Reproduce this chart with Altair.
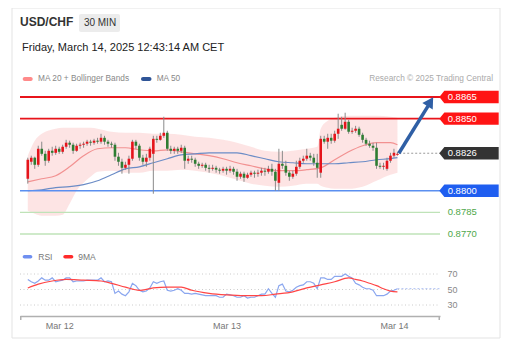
import altair as alt
import pandas as pd

# ---------------- data (30-min candles, first one Mar 11 19:30) ----------------
open_ = [0.88083, 0.88201, 0.88229, 0.88180, 0.88291, 0.88256, 0.88208, 0.88277, 0.88263, 0.88291,
         0.88270, 0.88305, 0.88333, 0.88319, 0.88277, 0.88312, 0.88319, 0.88326, 0.88340, 0.88333,
         0.88347, 0.88340, 0.88367, 0.88340, 0.88326, 0.88319, 0.88236, 0.88201, 0.88159, 0.88180,
         0.88222, 0.88340, 0.88312, 0.88229, 0.88201, 0.88229, 0.88256, 0.88360, 0.88353, 0.88381,
         0.88402, 0.88291, 0.88277, 0.88291, 0.88277, 0.88298, 0.88208, 0.88222, 0.88215, 0.88187,
         0.88173, 0.88180, 0.88159, 0.88152, 0.88159, 0.88146, 0.88139, 0.88152, 0.88139, 0.88152,
         0.88132, 0.88097, 0.88118, 0.88090, 0.88111, 0.88125, 0.88118, 0.88125, 0.88139, 0.88132,
         0.88152, 0.88132, 0.88055, 0.88187, 0.88173, 0.88125, 0.88097, 0.88118, 0.88166, 0.88208,
         0.88222, 0.88243, 0.88229, 0.88194, 0.88125, 0.88360, 0.88340, 0.88367, 0.88347, 0.88395,
         0.88457, 0.88430, 0.88478, 0.88409, 0.88416, 0.88430, 0.88388, 0.88353, 0.88326, 0.88312,
         0.88298, 0.88173, 0.88166, 0.88152, 0.88208, 0.88243, 0.88249]
high = [0.88229, 0.88243, 0.88236, 0.88312, 0.88340, 0.88277, 0.88291, 0.88305, 0.88312, 0.88305,
        0.88319, 0.88353, 0.88347, 0.88333, 0.88326, 0.88333, 0.88340, 0.88353, 0.88353, 0.88360,
        0.88367, 0.88395, 0.88381, 0.88353, 0.88340, 0.88333, 0.88263, 0.88222, 0.88201, 0.88243,
        0.88353, 0.88353, 0.88326, 0.88249, 0.88256, 0.88305, 0.88381, 0.88381, 0.88402, 0.88513,
        0.88416, 0.88312, 0.88305, 0.88305, 0.88319, 0.88312, 0.88243, 0.88243, 0.88229, 0.88201,
        0.88194, 0.88194, 0.88180, 0.88180, 0.88173, 0.88159, 0.88166, 0.88166, 0.88173, 0.88166,
        0.88152, 0.88132, 0.88132, 0.88125, 0.88139, 0.88139, 0.88146, 0.88159, 0.88159, 0.88173,
        0.88187, 0.88152, 0.88291, 0.88277, 0.88208, 0.88139, 0.88139, 0.88208, 0.88229, 0.88243,
        0.88291, 0.88263, 0.88256, 0.88256, 0.88381, 0.88381, 0.88395, 0.88395, 0.88416, 0.88534,
        0.88513, 0.88541, 0.88492, 0.88437, 0.88450, 0.88444, 0.88402, 0.88367, 0.88347, 0.88333,
        0.88333, 0.88194, 0.88194, 0.88229, 0.88263, 0.88291, 0.88270]
low = [0.88049, 0.88180, 0.88152, 0.88166, 0.88243, 0.88173, 0.88194, 0.88243, 0.88249, 0.88256,
       0.88256, 0.88291, 0.88298, 0.88256, 0.88270, 0.88291, 0.88298, 0.88312, 0.88312, 0.88319,
       0.88326, 0.88326, 0.88319, 0.88305, 0.88298, 0.88208, 0.88173, 0.88118, 0.88146, 0.88118,
       0.88208, 0.88291, 0.88208, 0.88180, 0.88166, 0.88208, 0.87979, 0.88333, 0.88347, 0.88367,
       0.88277, 0.88256, 0.88256, 0.88256, 0.88263, 0.88152, 0.88187, 0.88194, 0.88166, 0.88152,
       0.88159, 0.88139, 0.88125, 0.88139, 0.88125, 0.88118, 0.88125, 0.88111, 0.88125, 0.88111,
       0.88069, 0.88083, 0.88062, 0.88083, 0.88097, 0.88090, 0.88097, 0.88104, 0.88104, 0.88118,
       0.88104, 0.88000, 0.88000, 0.88152, 0.88104, 0.88069, 0.88083, 0.88104, 0.88152, 0.88194,
       0.88208, 0.88208, 0.88173, 0.88090, 0.88090, 0.88326, 0.88291, 0.88326, 0.88333, 0.88360,
       0.88416, 0.88423, 0.88395, 0.88395, 0.88402, 0.88374, 0.88333, 0.88312, 0.88298, 0.88277,
       0.88152, 0.88152, 0.88146, 0.88139, 0.88194, 0.88229, 0.88243]
close = [0.88215, 0.88229, 0.88180, 0.88291, 0.88256, 0.88208, 0.88277, 0.88263, 0.88291, 0.88270,
         0.88305, 0.88333, 0.88319, 0.88277, 0.88312, 0.88319, 0.88326, 0.88340, 0.88333, 0.88347,
         0.88340, 0.88367, 0.88340, 0.88326, 0.88319, 0.88236, 0.88201, 0.88159, 0.88180, 0.88222,
         0.88340, 0.88312, 0.88229, 0.88201, 0.88229, 0.88291, 0.88360, 0.88353, 0.88381, 0.88402,
         0.88291, 0.88277, 0.88291, 0.88277, 0.88298, 0.88208, 0.88222, 0.88215, 0.88187, 0.88173,
         0.88180, 0.88159, 0.88152, 0.88159, 0.88146, 0.88139, 0.88152, 0.88139, 0.88152, 0.88132,
         0.88097, 0.88118, 0.88090, 0.88111, 0.88125, 0.88118, 0.88125, 0.88139, 0.88132, 0.88152,
         0.88132, 0.88069, 0.88187, 0.88173, 0.88125, 0.88097, 0.88118, 0.88166, 0.88208, 0.88222,
         0.88243, 0.88229, 0.88194, 0.88159, 0.88360, 0.88340, 0.88367, 0.88347, 0.88395, 0.88430,
         0.88430, 0.88478, 0.88409, 0.88416, 0.88430, 0.88388, 0.88353, 0.88326, 0.88312, 0.88298,
         0.88173, 0.88166, 0.88173, 0.88208, 0.88243, 0.88263, 0.88256]
rsi = [63, 60, 58, 61, 65, 62, 62, 65, 60, 61,
       62, 65, 65, 60, 61, 61, 61, 62, 62, 62,
       62, 65, 60, 61, 60, 45, 48, 44, 42, 47,
       58, 55, 49, 47, 48, 52, 60, 58, 60, 61,
       49, 48, 49, 51, 49, 45, 45, 44, 45, 44,
       43, 42, 42, 42, 42, 40, 40, 44, 43, 42,
       40, 40, 42, 39, 40, 40, 42, 44, 44, 51,
       45, 40, 55, 57, 48, 47, 49, 53, 55, 56,
       60, 60, 58, 51, 65, 65, 63, 63, 67, 67,
       67, 70, 67, 65, 58, 56, 53, 51, 51, 49,
       42, 42, 42, 44, 48, 49, 51]

# moving averages (read at candle indices)
ma_idx = [0, 4, 8, 12, 16, 20, 24, 28, 32, 36, 40, 44, 48, 52, 56, 60, 64, 68, 72, 76, 80, 84, 88, 92, 96, 100, 104, 106]
ma20 = [0.88062, 0.88083, 0.88104, 0.88166, 0.88243, 0.88291, 0.88298, 0.88298, 0.88284, 0.88277,
        0.88284, 0.88270, 0.88256, 0.88243, 0.88222, 0.88194, 0.88173, 0.88152, 0.88139, 0.88139,
        0.88146, 0.88159, 0.88215, 0.88270, 0.88312, 0.88333, 0.88333, 0.88319]
ma50 = [0.88000, 0.88007, 0.88021, 0.88028, 0.88042, 0.88069, 0.88111, 0.88152, 0.88166, 0.88194,
        0.88222, 0.88249, 0.88256, 0.88263, 0.88263, 0.88263, 0.88243, 0.88222, 0.88201, 0.88194,
        0.88187, 0.88187, 0.88187, 0.88194, 0.88201, 0.88215, 0.88222, 0.88229]
band_idx = [0, 2, 4, 8, 10, 12, 14, 16, 18, 20, 24, 28, 32, 36, 40, 44, 48, 52, 56, 60, 64, 68, 72,
            76, 80, 83, 84, 86, 88, 92, 96, 100, 104, 106]
bb_upper = [0.88243, 0.88347, 0.88395, 0.88430, 0.88437, 0.88437, 0.88437, 0.88437, 0.88437, 0.88430,
            0.88409, 0.88402, 0.88402, 0.88395, 0.88395, 0.88388, 0.88374, 0.88367, 0.88353, 0.88333,
            0.88305, 0.88277, 0.88270, 0.88277, 0.88291, 0.88305, 0.88430, 0.88485, 0.88506, 0.88520,
            0.88520, 0.88520, 0.88513, 0.88506]
bb_lower = [0.87861, 0.87841, 0.87827, 0.87827, 0.87834, 0.87910, 0.88000, 0.88055, 0.88097, 0.88132,
            0.88139, 0.88125, 0.88125, 0.88139, 0.88139, 0.88146, 0.88139, 0.88125, 0.88104, 0.88076,
            0.88049, 0.88035, 0.88028, 0.88035, 0.88049, 0.88049, 0.88035, 0.88021, 0.88014, 0.88014,
            0.88028, 0.88069, 0.88111, 0.88125]
rsi_ma_idx = [0, 3, 7, 11, 16, 21, 24, 28, 32, 36, 40, 44, 47, 52, 57, 62, 67, 71, 76, 80,
              84, 88, 92, 94, 96, 98, 100, 102, 104, 106]
rsi_ma = [52, 57, 61, 63, 62, 61, 58, 53, 49, 52, 53, 53, 49, 45, 43, 42, 42, 44, 47, 52,
          56, 60, 65, 63, 61, 58, 55, 51, 48, 47]

# key levels
resist_levels = [0.8865, 0.8850]
current_level = [0.8826]
support_level = [0.8800]
target_levels = [0.8785, 0.8770]
tag_levels = [0.8865, 0.8850, 0.8826, 0.8800]
tag_colors = ["#ff1414", "#ff1414", "#333333", "#1f5ef0"]
rsi_levels = [70, 50, 30]

# forecast arrow (time, price)
arrow_t = ["2025-03-14 00:42", "2025-03-14 04:54"]
arrow_p = [0.8826, 0.88588]
head_t = ["2025-03-14 05:13"]
head_p = [0.88617]

# ---------------- tables ----------------
times = pd.date_range("2025-03-11 19:30", periods=len(close), freq="30min")
candles = pd.DataFrame({"t": times, "o": open_, "h": high, "l": low, "c": close, "rsi": rsi})
candles["dir"] = ["up" if c >= o else "down" for o, c in zip(open_, close)]
ma_df = pd.DataFrame({"t": times[ma_idx], "ma20": ma20, "ma50": ma50})
band_df = pd.DataFrame({"t": times[band_idx], "up": bb_upper, "lo": bb_lower})
rsi_ma_df = pd.DataFrame({"t": times[rsi_ma_idx], "v": rsi_ma})
tag_df = pd.DataFrame({"p": tag_levels, "col": tag_colors, "lbl": [f"{v:.4f}" for v in tag_levels]})
tgt_df = pd.DataFrame({"p": target_levels, "lbl": [f"{v:.4f}" for v in target_levels]})
cur_df = pd.DataFrame({"t": [times[-1] + pd.Timedelta(minutes=15)], "p": current_level})
arrow_df = pd.DataFrame({"t": pd.to_datetime(arrow_t), "p": arrow_p})
head_df = pd.DataFrame({"t": pd.to_datetime(head_t), "p": head_p})
rsi_lv_df = pd.DataFrame({"v": rsi_levels})
rsi_last = pd.DataFrame({"t": [times[-1]], "v": [rsi[-1]]})
one = pd.DataFrame({"k": [0]})

# ---------------- scales ----------------
W, H = 420, 226
FONT = "Liberation Sans"
x_scale = alt.Scale(domain=[alt.DateTime(year=2025, month=3, date=11, hours=19, minutes=6),
                            alt.DateTime(year=2025, month=3, date=14, hours=5, minutes=53)])
x_axis = alt.Axis(values=[alt.DateTime(year=2025, month=3, date=d) for d in (12, 13, 14)],
                  format="%b %d", title=None, grid=False, ticks=False, labelPadding=5,
                  labelFontSize=9, labelColor="#777777", labelFont=FONT, labelFlush=False,
                  domainColor="#b0b0b0", domainWidth=1.5, zindex=2)


def X(f="t"):
    return alt.X(f"{f}:T", scale=x_scale, axis=x_axis)


p_scale = alt.Scale(domain=[0.871314, 0.886985], nice=False, zero=False)
r_scale = alt.Scale(domain=[15.81, 307.42], nice=False, zero=False)


def YP(f):
    return alt.Y(f"{f}:Q", scale=p_scale, axis=None)


def YR(f):
    return alt.Y(f"{f}:Q", scale=r_scale, axis=None)


def txt(s, x, y, size=9, color="#333333", weight="normal", align="left"):
    return alt.Chart(one).mark_text(text=s, fontSize=size, color=color, fontWeight=weight,
                                    align=align, baseline="middle", font=FONT).encode(
        x=alt.value(x), y=alt.value(y))


def box(x, x2, y, y2, fill, stroke=None, radius=0):
    kw = dict(fill=fill, cornerRadius=radius)
    if stroke:
        kw.update(stroke=stroke, strokeWidth=1)
    return alt.Chart(one).mark_rect(**kw).encode(
        x=alt.value(x), x2=alt.value(x2), y=alt.value(y), y2=alt.value(y2))


def vtick(x):
    return alt.Chart(one).mark_rule(color="#b0b0b0", strokeWidth=1.5).encode(
        x=alt.value(x), y=alt.value(H), y2=alt.value(H + 4))


# ---------------- price panel ----------------
band = alt.Chart(band_df).mark_area(color="#fde1e1", opacity=0.9, interpolate="monotone").encode(
    x=X(), y=YP("up"), y2=alt.Y2("lo"))
ma20_line = alt.Chart(ma_df).mark_line(color="#f29191", strokeWidth=1.2, interpolate="monotone").encode(
    x=X(), y=YP("ma20"))
ma50_line = alt.Chart(ma_df).mark_line(color="#6b8cc6", strokeWidth=1.2, interpolate="monotone").encode(
    x=X(), y=YP("ma50"))
red_lines = alt.Chart(pd.DataFrame({"p": resist_levels})).mark_rule(color="#e8141b", strokeWidth=1.8).encode(
    y=YP("p"), x=alt.value(0), x2=alt.value(W))
blue_line = alt.Chart(pd.DataFrame({"p": support_level})).mark_rule(color="#5b8ff0", strokeWidth=1.6).encode(
    y=YP("p"), x=alt.value(0), x2=alt.value(W))
green_lines = alt.Chart(tgt_df).mark_rule(color="#bfe3b8", strokeWidth=1.3).encode(
    y=YP("p"), x=alt.value(0), x2=alt.value(W))
cur_line = alt.Chart(cur_df).mark_rule(color="#9a9a9a", strokeWidth=1, strokeDash=[2, 2]).encode(
    x=X(), x2=alt.value(W), y=YP("p"))
wicks = alt.Chart(candles).mark_rule(color="#8a8a8a", strokeWidth=1).encode(
    x=X(), y=YP("l"), y2=alt.Y2("h"))
bodies = alt.Chart(candles).mark_bar(size=2.6).encode(
    x=X(), y=YP("o"), y2=alt.Y2("c"),
    color=alt.Color("dir:N", scale=alt.Scale(domain=["up", "down"], range=["#e5141b", "#2e7d32"]), legend=None))
arrow = alt.Chart(arrow_df).mark_line(color="#2f5fa5", strokeWidth=3.5).encode(x=X(), y=YP("p"))
head = alt.Chart(head_df).mark_point(shape="triangle-up", angle=32, size=150, filled=True,
                                     opacity=1, color="#2f5fa5").encode(x=X(), y=YP("p"))
TAG = "M-1,0L-0.83,-0.207L1,-0.207L1,0.207L-0.83,0.207Z"
tags = alt.Chart(tag_df).mark_point(shape=TAG, size=3528, filled=True, opacity=1, strokeWidth=0).encode(
    x=alt.value(449), y=YP("p"), color=alt.Color("col:N", scale=None))
tag_txt = alt.Chart(tag_df).mark_text(align="left", baseline="middle", fontSize=9.5, color="white",
                                      font=FONT).encode(x=alt.value(427.7), y=YP("p"), text="lbl:N")
tgt_txt = alt.Chart(tgt_df).mark_text(align="left", baseline="middle", fontSize=9.5, color="#4fa84a",
                                      font=FONT).encode(x=alt.value(427.7), y=YP("p"), text="lbl:N")

price = alt.layer(band, ma20_line, ma50_line, red_lines, blue_line, green_lines, cur_line,
                  wicks, bodies, arrow, head, tags, tag_txt, tgt_txt)

# ---------------- RSI panel ----------------
rsi_grid = alt.Chart(rsi_lv_df).mark_rule(color="#cccccc", strokeWidth=1, strokeDash=[1, 2.5]).encode(
    y=YR("v"), x=alt.value(0), x2=alt.value(418))
rsi_lbl = alt.Chart(rsi_lv_df).mark_text(align="left", baseline="middle", fontSize=9, color="#888888",
                                         font=FONT).encode(x=alt.value(427.5), y=YR("v"), text="v:Q")
rsi_line = alt.Chart(candles).mark_line(color="#8aa6ef", strokeWidth=1.2).encode(x=X(), y=YR("rsi"))
rsi_ma_line = alt.Chart(rsi_ma_df).mark_line(color="#ff4545", strokeWidth=1.2, interpolate="monotone").encode(
    x=X(), y=YR("v"))
rsi_cont = alt.Chart(rsi_last).mark_rule(color="#a9bdf3", strokeWidth=1, strokeDash=[2, 2]).encode(
    x=X(), x2=alt.value(W), y=YR("v"))
rsi_panel = alt.layer(rsi_grid, rsi_lbl, rsi_line, rsi_ma_line, rsi_cont)

# ---------------- frame & header (plot origin is page (20, 90)) ----------------
card = box(-8, 480, -82, 248, "white", stroke="#e3e3e3")
header = [
    vtick(0.75), vtick(W - 0.75),
    txt("USD/CHF", 0, -68, size=12, color="#333333", weight="bold"),
    box(59, 100, -76, -58, "#ececec", radius=2),
    txt("30 MIN", 80, -67, size=10, color="#333333", align="center"),
    txt("Friday, March 14, 2025 12:43:14 AM CET", 2, -42, size=11, color="#222222"),
    box(2.7, 12.7, -13, -9, "#ff8a8a", radius=2),
    txt("MA 20 + Bollinger Bands", 18, -11, size=8.3, color="#888888"),
    box(121, 131.5, -13, -9, "#2f5597", radius=2),
    txt("MA 50", 136.7, -11, size=8.3, color="#888888"),
    txt("Research \u00a9 2025 Trading Central", 473, -11, size=8.3, color="#aaaaaa", align="right"),
    box(2.7, 12.3, 165, 168.5, "#6f8ff0", radius=2),
    txt("RSI", 18.3, 166.7, size=8.5, color="#777777"),
    box(43.3, 53.3, 165, 168.5, "#ff2a2a", radius=2),
    txt("9MA", 58.3, 166.7, size=8.5, color="#777777"),
]

chart = alt.layer(card, price, rsi_panel, *header).resolve_scale(
    y="independent", x="shared"
).properties(
    width=W, height=H,
    autosize=alt.AutoSizeParams(type="none"),
    padding={"left": 12, "top": 82, "right": 68, "bottom": 33},
).configure_view(stroke=None).configure(font=FONT)

chart.save("out.html", embed_options={"renderer": "svg", "actions": False})
